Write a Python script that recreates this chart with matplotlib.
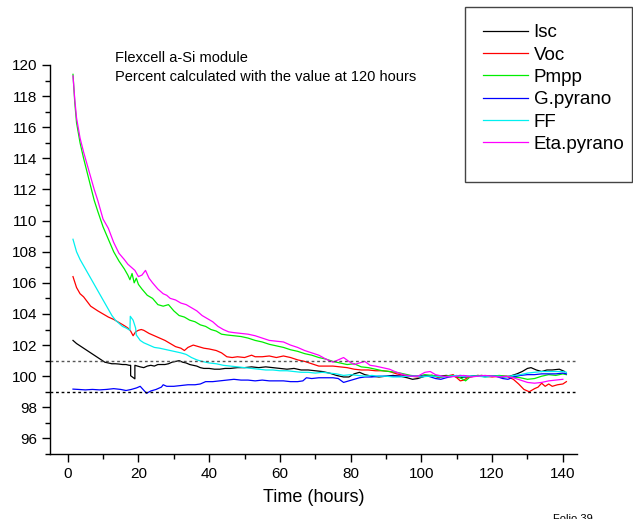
import matplotlib
matplotlib.use("Agg")
import matplotlib.pyplot as plt
from matplotlib.patches import Rectangle
from matplotlib.ticker import MultipleLocator

plt.rcParams["font.family"] = ["Liberation Sans", "DejaVu Sans"]

# ---- data (time in hours, percent of value at 120 h)
isc_t = [1.5, 2.5, 3.5, 4.5, 5.5, 6.5, 7.5, 8.5, 9.5, 10.5, 11.5, 12.5, 13.5, 14.5, 15.5, 16.5,
         17.4, 17.8, 17.8, 19.0, 19.0, 20.5, 21.5, 22.5, 23.5, 24.5, 25.5, 26.5, 27.5, 28.5, 29.5,
         30.5, 31.5, 32.5, 33.5, 34.5, 35.5, 36.5, 37.5, 38.5, 40, 41.5, 43, 44.5, 46, 48, 50, 52,
         54, 56, 58, 60, 62, 64, 66, 68, 70, 72, 74, 76, 78, 79.5, 81, 82.5, 84, 86, 88, 90, 92,
         94, 96, 97.5, 99, 101, 103, 105, 107, 109, 111, 113, 115, 117, 119, 121, 123, 125, 127,
         128.5, 130, 131, 132.5, 134, 135.5, 137, 139, 140.5]
isc = [102.3, 102.1, 101.95, 101.8, 101.65, 101.5, 101.35, 101.2, 101.05, 100.9, 100.85, 100.8,
       100.8, 100.78, 100.75, 100.75, 100.7, 100.7, 100.03, 99.83, 100.7, 100.6, 100.55, 100.65,
       100.7, 100.65, 100.75, 100.75, 100.75, 100.8, 100.9, 100.95, 101.0, 100.9, 100.85, 100.75,
       100.7, 100.65, 100.55, 100.5, 100.5, 100.45, 100.45, 100.5, 100.5, 100.55, 100.55, 100.6,
       100.55, 100.6, 100.55, 100.5, 100.45, 100.5, 100.4, 100.4, 100.35, 100.3, 100.2, 100.05,
       99.95, 99.95, 100.15, 100.25, 100.1, 100.0, 99.95, 100.0, 100.05, 100.0, 99.9, 99.8, 99.85,
       100.0, 100.05, 100.0, 100.05, 100.0, 99.9, 99.95, 100.0, 100.05, 100.0, 100.0, 99.95, 100.0,
       100.15, 100.3, 100.5, 100.55, 100.4, 100.3, 100.4, 100.4, 100.45, 100.3]

voc_t = [1.5, 2.5, 3.5, 4.5, 5.5, 6.5, 7.5, 8.5, 10, 11.5, 13, 14.5, 16, 17, 17.8, 18.5, 19.2,
         20, 20.8, 21.5, 23, 24.5, 26, 27.5, 29, 30.5, 32, 33, 34, 35.5, 37, 38.5, 40, 42, 43.5,
         45, 46.5, 48, 50, 52, 53, 55, 57, 59, 61, 63, 65, 67, 69, 71, 73, 75, 77, 79, 81, 83, 85,
         87, 89, 91, 93, 95, 97, 99, 101, 103, 105, 107, 109, 110, 111, 112, 113, 114, 116, 118,
         120, 122, 124, 126, 127.5, 129, 130.5, 132, 133, 134, 135, 136, 137, 138.5, 140, 141]
voc = [106.4, 105.7, 105.3, 105.1, 104.8, 104.5, 104.35, 104.2, 104.0, 103.8, 103.65, 103.45,
       103.25, 103.1, 102.9, 102.6, 102.85, 102.95, 103.0, 102.95, 102.75, 102.6, 102.45, 102.3,
       102.1, 101.9, 101.8, 101.65, 101.85, 102.0, 101.9, 101.8, 101.75, 101.65, 101.5, 101.25,
       101.2, 101.25, 101.2, 101.35, 101.25, 101.25, 101.3, 101.2, 101.3, 101.2, 101.05, 100.95,
       100.8, 100.65, 100.65, 100.65, 100.6, 100.55, 100.45, 100.4, 100.4, 100.35, 100.35, 100.3,
       100.15, 100.05, 100.0, 99.95, 100.0, 100.05, 99.9, 100.0, 100.1, 99.9, 99.7, 99.75, 99.9,
       99.95, 100.05, 100.0, 99.95, 100.0, 100.0, 99.8, 99.5, 99.15, 99.0, 99.2, 99.3, 99.55,
       99.35, 99.5, 99.35, 99.45, 99.5, 99.65]

pmpp_t = [1.5, 2, 2.5, 3.5, 4.5, 5.5, 6.5, 7.5, 8.5, 10, 11.5, 13, 14.5, 16, 17, 17.6, 18.2, 18.8,
          19.4, 20, 21, 22.5, 24, 25.5, 27, 28.5, 30, 31.5, 33, 34.5, 36, 37.5, 39, 40.5, 42, 43.5,
          45, 47, 49, 51, 53, 55, 57, 59, 61, 63, 65, 67, 69, 71, 73, 75, 77, 79, 81, 83, 85, 87,
          89, 91, 93, 95, 97, 99, 101, 103, 105, 107, 109, 111, 112.5, 114, 116, 118, 120, 122,
          124, 126, 128, 130, 132, 134, 136, 138, 140, 141]
pmpp = [119.4, 117.6, 116.3, 115.0, 114.0, 113.1, 112.2, 111.3, 110.6, 109.6, 108.8, 108.0, 107.4,
        106.9, 106.5, 106.2, 106.6, 106.0, 106.3, 105.9, 105.6, 105.2, 105.0, 104.6, 104.5, 104.6,
        104.2, 103.9, 103.8, 103.6, 103.5, 103.3, 103.2, 103.0, 102.9, 102.7, 102.65, 102.6,
        102.55, 102.45, 102.3, 102.2, 102.05, 101.95, 101.85, 101.7, 101.6, 101.45, 101.35, 101.2,
        101.1, 100.95, 100.85, 100.75, 100.8, 100.6, 100.55, 100.45, 100.35, 100.3, 100.25,
        100.15, 100.05, 100.0, 100.1, 100.05, 99.95, 100.0, 100.05, 99.9, 99.7, 100.0, 100.05,
        99.95, 100.0, 100.05, 100.0, 99.95, 99.9, 99.8, 99.85, 100.0, 100.1, 100.05, 100.15, 100.1]

gpyr_t = [1.5, 3, 5, 7, 9, 11, 13, 15, 16.5, 18, 19.5, 20.5, 21.5, 22.3, 23.5, 25, 26.5, 27, 28,
          30, 32, 34, 36, 37.5, 39, 41, 43, 45, 47, 49, 51, 53, 55, 57, 59, 61, 63, 65, 66.5, 67.5,
          69, 71, 73, 75, 76.5, 78, 79.5, 81, 82.5, 84, 86, 88, 90, 92, 94, 96, 98, 100, 102, 104,
          105.5, 107, 109, 111, 113, 115, 117, 119, 121, 123, 124.5, 126, 128, 130, 132, 134, 136,
          138, 140, 141]
gpyr = [99.17, 99.15, 99.12, 99.15, 99.12, 99.15, 99.2, 99.15, 99.08, 99.15, 99.25, 99.35, 99.1,
        98.9, 99.05, 99.15, 99.3, 99.45, 99.35, 99.35, 99.4, 99.45, 99.45, 99.5, 99.65, 99.65,
        99.7, 99.75, 99.8, 99.75, 99.75, 99.7, 99.75, 99.7, 99.7, 99.7, 99.65, 99.65, 99.7, 99.9,
        99.85, 99.9, 99.9, 99.9, 99.85, 99.6, 99.7, 99.8, 99.9, 99.95, 99.95, 100.0, 100.0, 100.0,
        100.0, 100.0, 100.0, 100.0, 100.0, 99.85, 99.8, 99.9, 100.0, 100.05, 100.0, 100.0, 100.0,
        100.0, 100.0, 99.85, 99.8, 99.95, 100.05, 100.1, 100.1, 100.15, 100.15, 100.15, 100.2,
        100.15]

ff_t = [1.5, 2.5, 3.5, 4.5, 5.5, 6.5, 7.5, 8.5, 9.5, 10.5, 11.5, 12.5, 13.5, 14.5, 15.5, 16.5,
        17.6, 17.7, 18.5, 19.2, 19.4, 20.5, 21.5, 23, 24.5, 26, 28, 30, 32, 33.5, 35, 36.5,
        38, 40, 42, 44, 46, 48, 50, 52, 54, 56, 58, 60, 62, 64, 66, 68, 70, 72, 74, 76, 78, 80,
        82, 84, 86, 88, 90, 92, 94, 96, 98, 100, 102, 104, 106, 108, 110, 112, 114, 116, 118, 120,
        122, 124, 126, 128, 130, 132, 134, 136, 138, 140, 141]
ff = [108.8, 108.0, 107.5, 107.1, 106.7, 106.3, 105.9, 105.5, 105.1, 104.7, 104.3, 103.9, 103.6,
      103.4, 103.2, 103.1, 102.95, 103.85, 103.6, 103.1, 102.65, 102.3, 102.15, 102.0,
      101.85, 101.8, 101.7, 101.6, 101.5, 101.4, 101.2, 101.05, 100.95, 100.85, 100.8, 100.7,
      100.65, 100.6, 100.55, 100.5, 100.45, 100.4, 100.4, 100.35, 100.35, 100.3, 100.25, 100.25,
      100.2, 100.25, 100.2, 100.15, 100.05, 100.1, 100.05, 100.0, 100.05, 100.0, 100.0, 99.95,
      99.95, 100.0, 100.0, 99.95, 100.0, 100.0, 99.95, 100.0, 100.05, 99.95, 100.0, 100.0, 99.95,
      100.0, 100.0, 99.95, 100.05, 100.1, 100.2, 100.25, 100.3, 100.3, 100.3, 100.3, 100.25]

eta_t = [1.5, 2, 2.5, 3.5, 4.5, 5.5, 6.5, 7.5, 8.5, 10, 11.5, 13, 14.5, 16, 17, 18, 19, 20, 21,
         22, 23, 24, 25.5, 27, 28, 29, 30.5, 32, 33.5, 35, 36.5, 38, 39.5, 41, 42.5, 44, 45.5, 47,
         49, 51, 53, 55, 57, 59, 61, 63, 65, 67, 69, 71, 73, 75, 77, 78, 79.5, 81, 82.5, 84, 85.5,
         87, 89, 91, 93, 95, 97, 99, 101, 102.5, 104, 106, 108, 110, 112, 114, 116, 118, 120, 122,
         124, 126, 128, 130, 132, 134, 136, 138, 140]
eta = [119.3, 117.8, 116.6, 115.3, 114.4, 113.6, 112.8, 112.0, 111.3, 110.1, 109.5, 108.6, 107.9,
       107.5, 107.2, 107.0, 106.8, 106.4, 106.5, 106.8, 106.3, 106.0, 105.6, 105.3, 105.2, 105.0,
       104.9, 104.7, 104.6, 104.4, 104.2, 103.9, 103.7, 103.5, 103.2, 103.0, 102.85, 102.8,
       102.75, 102.7, 102.6, 102.45, 102.3, 102.25, 102.2, 102.0, 101.85, 101.65, 101.5, 101.35,
       101.1, 100.9, 101.1, 101.2, 100.95, 100.75, 100.85, 100.95, 100.7, 100.65, 100.55, 100.45,
       100.25, 100.1, 100.0, 100.0, 100.25, 100.3, 100.1, 100.0, 99.95, 100.0, 100.05, 99.95,
       100.0, 100.05, 100.0, 99.95, 100.0, 99.9, 99.75, 99.6, 99.55, 99.6, 99.7, 99.75, 99.8]

series = [("Isc", isc_t, isc, "black"),
          ("Voc", voc_t, voc, "#ff0000"),
          ("Pmpp", pmpp_t, pmpp, "#00ee00"),
          ("G.pyrano", gpyr_t, gpyr, "#0000ff"),
          ("FF", ff_t, ff, "#00f0f0"),
          ("Eta.pyrano", eta_t, eta, "#ff00ff")]

fig = plt.figure(figsize=(6.33, 5.19), dpi=100)
ax = fig.add_axes([50 / 633, 1 - 454 / 519, 527 / 633, 389 / 519])

handles = []
for name, t, v, c in series:
    h, = ax.plot(t, v, color=c, lw=0.9, label=name)
    handles.append(h)

ax.axhline(101, color="#555555", lw=1.0, ls=(0, (2, 2)))
ax.axhline(99, color="black", lw=1.0, ls=(0, (2, 2)))

ax.set_xlim(-5, 144)
ax.set_ylim(95, 120)
ax.xaxis.set_major_locator(MultipleLocator(20))
ax.xaxis.set_minor_locator(MultipleLocator(10))
ax.yaxis.set_major_locator(MultipleLocator(2))
ax.yaxis.set_minor_locator(MultipleLocator(1))
ax.set_yticks(range(96, 121, 2))
ax.tick_params(which="major", direction="out", length=5.5, width=1.0, labelsize=11)
ax.tick_params(which="minor", direction="out", length=3.5, width=1.0)
for s in ("top", "right"):
    ax.spines[s].set_visible(False)
for s in ("left", "bottom"):
    ax.spines[s].set_linewidth(1.0)

ax.set_xlabel("Time (hours)", fontsize=13, labelpad=6)

fig.text(115 / 633, 1 - 58 / 519, "Flexcell a-Si module", fontsize=10.5, va="center")
fig.text(115 / 633, 1 - 77 / 519, "Percent calculated with the value at 120 hours",
         fontsize=10.5, va="center")
fig.text(553 / 633, 1 - 514 / 519, "Folio 39", fontsize=8, va="top")

# legend in its own box at the top right
fig.patches.append(Rectangle((465 / 633, 1 - 182 / 519), 167 / 633, 175 / 519,
                             transform=fig.transFigure, fill=False, ec="#444444", lw=1.0))
fig.legend(handles=handles, loc="upper left", bbox_to_anchor=(483 / 633, 1 - 24 / 519),
           frameon=False, fontsize=13.5, borderpad=0, borderaxespad=0,
           handlelength=2.4, handletextpad=0.3, labelspacing=0.28)

fig.savefig("out.png", dpi=100)
